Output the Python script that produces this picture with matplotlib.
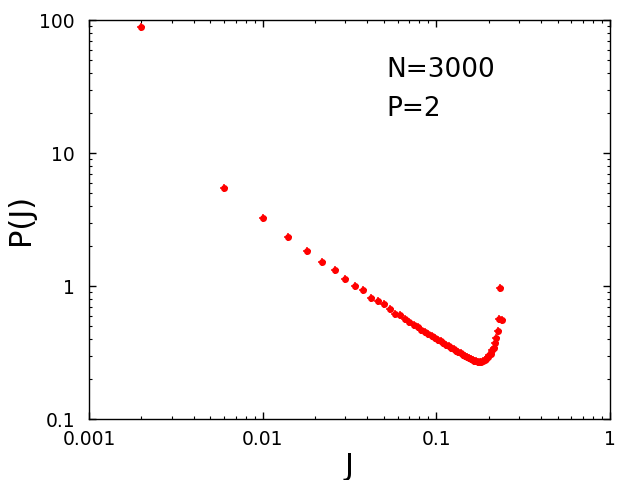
import numpy as np
import matplotlib
matplotlib.use("Agg")
import matplotlib.pyplot as plt

# J values (bin centres) and P(J)
J = [0.002, 0.006, 0.010, 0.014, 0.018, 0.022, 0.026, 0.030, 0.034, 0.038,
     0.042, 0.046, 0.050, 0.054, 0.058, 0.062, 0.066, 0.070, 0.074, 0.078,
     0.082, 0.086, 0.090, 0.094, 0.098, 0.102, 0.106, 0.110, 0.114, 0.118,
     0.122, 0.126, 0.130, 0.134, 0.138, 0.142, 0.146, 0.150, 0.154, 0.158,
     0.162, 0.166, 0.170, 0.174, 0.178, 0.182, 0.186, 0.190, 0.194, 0.198,
     0.202, 0.206, 0.210, 0.214, 0.218, 0.222, 0.226, 0.230, 0.234, 0.238]
P = [89.0, 5.43, 3.23, 2.32, 1.83, 1.51, 1.31, 1.14, 1.01, 0.93,
     0.82, 0.77, 0.73, 0.67, 0.62, 0.602, 0.565, 0.536, 0.511, 0.489,
     0.469, 0.450, 0.435, 0.421, 0.407, 0.394, 0.383, 0.372, 0.361, 0.352,
     0.343, 0.334, 0.326, 0.319, 0.312, 0.305, 0.299, 0.294, 0.289, 0.284,
     0.279, 0.274, 0.271, 0.267, 0.267, 0.268, 0.272, 0.277, 0.284, 0.292,
     0.301, 0.311, 0.328, 0.345, 0.371, 0.405, 0.459, 0.565, 0.962, 0.56]

fig = plt.figure(figsize=(6.4, 4.8), dpi=100)
ax = fig.add_axes([0.139, 0.127, 0.814, 0.831])

# gnuplot-like asterisk points (filled dot + short cross)
ax.plot(J, P, linestyle="none", marker="o", markersize=5,
        color="red", markeredgewidth=0)
ax.plot(J, P, linestyle="none", marker="+", markersize=6,
        color="red", markeredgewidth=1.1)

ax.set_xscale("log")
ax.set_yscale("log")
ax.set_xlim(0.001, 1)
ax.set_ylim(0.1, 100)

ax.set_xticks([0.001, 0.01, 0.1, 1])
ax.set_xticklabels(["0.001", "0.01", "0.1", "1"])
ax.set_yticks([0.1, 1, 10, 100])
ax.set_yticklabels(["0.1", "1", "10", "100"])

ax.tick_params(which="both", direction="in", top=True, right=True)
ax.tick_params(which="major", length=5, width=1, labelsize=13.5, pad=8)
ax.tick_params(axis="y", which="major", pad=10)
ax.tick_params(which="minor", length=2.5, width=0.8)
for s in ax.spines.values():
    s.set_linewidth(1)

ax.set_xlabel("J", fontsize=22, labelpad=2)
ax.set_ylabel("P(J)", fontsize=22, labelpad=3)

ax.text(0.57, 0.858, "N=3000", transform=ax.transAxes, fontsize=19,
        va="baseline", ha="left")
ax.text(0.57, 0.759, "P=2", transform=ax.transAxes, fontsize=19,
        va="baseline", ha="left")

fig.savefig("out.png", dpi=100)
